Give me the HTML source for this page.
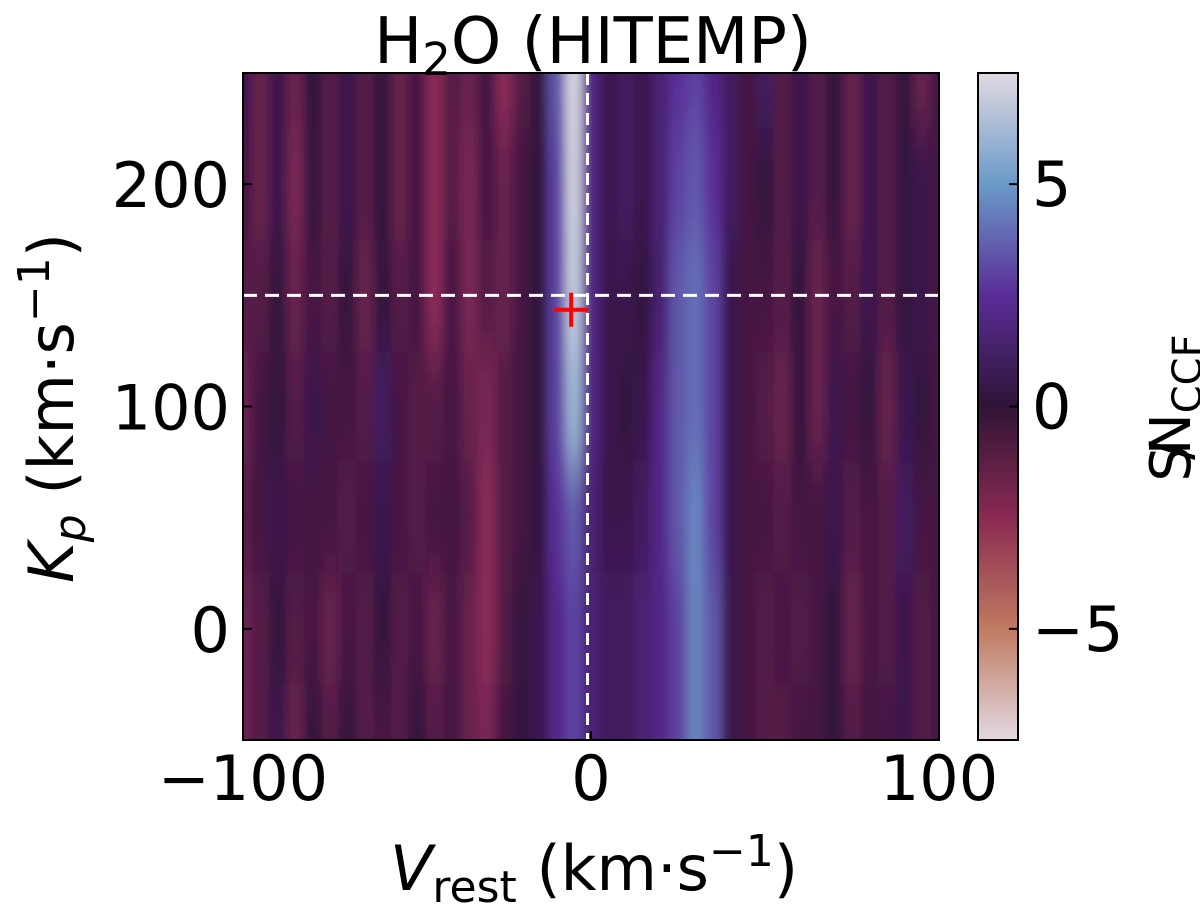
<!DOCTYPE html>
<html><head><meta charset="utf-8"><style>
html,body{margin:0;padding:0;background:#fff;}
svg text{font-family:"DejaVu Sans","Liberation Sans",sans-serif;fill:#000;}
</style></head><body>
<svg id="chart" width="1200" height="905" viewBox="0 0 1200 905">
<defs>
<clipPath id="plotclip"><rect x="243" y="73" width="696" height="667"/></clipPath>
<filter id="blur" x="-10%" y="-10%" width="120%" height="120%"><feGaussianBlur stdDeviation="5 30"/></filter>
<linearGradient id="cbgrad" x1="0" y1="1" x2="0" y2="0">
<stop offset="0" stop-color="#e2d9e2"/><stop offset="0.167" stop-color="#c07a60"/>
<stop offset="0.333" stop-color="#8a2a52"/><stop offset="0.5" stop-color="#2f1436"/>
<stop offset="0.667" stop-color="#5a2d98"/><stop offset="0.833" stop-color="#6a9ac8"/>
<stop offset="1" stop-color="#e2d9e2"/></linearGradient>
</defs>
<g clip-path="url(#plotclip)"><g id="cells" filter="url(#blur)"></g></g>
<g id="overlay"></g>
<rect x="243" y="73" width="696" height="667" fill="none" stroke="#000" stroke-width="2"/>
<text x="593" y="63" font-size="64" text-anchor="middle">H<tspan font-size="45" dy="12">2</tspan><tspan dy="-12">O (HITEMP)</tspan></text>
<text x="594" y="890" font-size="62" text-anchor="middle"><tspan font-style="italic">V</tspan><tspan font-size="44" dy="12">rest</tspan><tspan dy="-12"> (km·s</tspan><tspan font-size="44" dy="-24">−1</tspan><tspan dy="24">)</tspan></text>
<text transform="translate(73,408) rotate(-90)" font-size="62" text-anchor="middle"><tspan font-style="italic">K</tspan><tspan font-size="44" dy="12" font-style="italic">p</tspan><tspan dy="-12"> (km·s</tspan><tspan font-size="44" dy="-24">−1</tspan><tspan dy="24">)</tspan></text>
<rect x="978" y="73" width="40" height="667" fill="url(#cbgrad)" stroke="#000" stroke-width="2"/>
<text transform="translate(1190,408) rotate(-90)" font-size="56" text-anchor="middle">S<tspan dx="-14">/</tspan><tspan dx="-14">N</tspan><tspan font-size="40" dy="11">CCF</tspan></text>
</svg>
<script>
const vels=[-100,-95,-90,-85,-80,-75,-70,-65,-60,-55,-50,-45,-40,-35,-30,-25,-20,-15,-10,-5,0,5,10,15,20,25,30,35,40,45,50,55,60,65,70,75,80,85,90,95,100];
const kps=[250,200,150,100,50,0,-50];
const row250=[0.5,-1.5,0.5,-1.5,0,-1,0.5,-1,0,-1.5,-0.5,-2.5,-1,-1.5,-0.5,-2.5,-1,0,3.5,7.2,2,0.5,1,0.5,1.5,2.5,3,2,1,-0.5,1,-1,0.5,-1,0,-1.5,0.5,-1,0,-1.5,-0.5];
const row200=[-0.5,-1.5,0.5,-2,0,-1,0.5,-1,0,-1.5,-0.5,-2.5,-1,-2,-0.5,-1.5,-0.5,0,3,7,2,0.5,1,0.5,1.5,3,3.5,2.5,1,-0.5,0,-1,0.5,-1,0,-1.5,0.5,-1,0,0.5,-0.5];
const row150=[-1,-1,0,-1.5,-0.5,-1,0,-1.5,0,-1,-0.5,-2.5,-0.5,-2,-1,-1.5,-0.5,0,3,6.8,2,0.5,0.5,0,1.5,3.5,4,3,0.5,-0.5,-0.5,-1,0,-1.5,-0.5,-1,0.5,-1,0,0.5,-0.5];
const row100=[-1.5,-0.5,0,-1,0.5,-0.5,-0.5,-1,1,-0.5,-1,-1,-0.5,-1.5,-2,-1,-0.5,0,3,6,2,0.5,0,0.5,2,3.5,4,3,0.5,-0.5,-1,-1.5,0,-1.5,0.5,-0.5,0,-1.5,0.5,0,-0.5];
const row50=[-1,-0.5,0.5,-0.5,-0.5,-0.5,-1,-0.5,0.5,-0.5,-1,-0.5,-0.5,-1,-2.5,-1,-0.5,0,2.5,3.5,1.5,0.5,0.5,1,2,3.5,4.5,3,0.5,-0.5,-0.5,-1,-0.5,-0.5,0.5,-1,-0.5,-1,1,-0.5,-0.5];
const row0=[-1.5,-1,0,-1,-0.5,-1.5,-0.5,-1,0,-1,-0.5,-1.5,-0.5,-1.5,-2.5,-1,0,0.5,2,3,1.5,1,1,1.5,2,3,4.5,3.5,0.5,-0.5,-1,-0.5,-1,-0.5,0,-1.5,-0.5,-1,0.5,-1,-0.5];
const rowm50=[-1.5,-1,0.5,-1.5,0,-1,0,-1,-0.5,-1,0,-1,-0.5,-1.5,-2,-0.5,0,0.5,2,3,1.5,1,1,1.5,2,3,4.5,3.5,0.5,-0.5,-1,-1,-0.5,-0.5,0,-1,-0.5,-0.5,0.5,-1,-0.5];
const grid=[row250,row200,row150,row100,row50,row0,rowm50];
const xTicks=[-100,0,100], yTicks=[0,100,200], cbTicks=[-5,0,5];
const xTickLabels=["−100","0","100"], yTickLabels=["0","100","200"], cbTickLabels=["−5","0","5"];
const marker={v:-5.7,kp:143.5}, guide={v:-1,kp:150};

const X=v=>243+(v+100)*696/200;
const Y=k=>740-(k+50)*667/300;
const CB=s=>740-(s+7.5)*667/15;
const stops=[[-7.5,[226,217,226]],[-5,[192,122,96]],[-2.5,[138,42,88]],[0,[50,20,60]],[2.5,[90,45,152]],[5,[106,154,200]],[7.5,[226,217,226]]];
function col(s){s=Math.max(-7.5,Math.min(7.5,s));for(let i=0;i<stops.length-1;i++){const a=stops[i],b=stops[i+1];if(s<=b[0]){const t=(s-a[0])/(b[0]-a[0]);return 'rgb('+a[1].map((c,j)=>Math.round(c+(b[1][j]-c)*t)).join(',')+')';}}return 'rgb(226,217,226)';}
const NS='http://www.w3.org/2000/svg';
const cells=document.getElementById('cells');
for(let r=0;r<kps.length;r++){for(let c=0;c<vels.length;c++){
 const e=document.createElementNS(NS,'rect');
 const x0=X(vels[c]-2.5), y0=Y(kps[r]+25);
 e.setAttribute('x',x0-(c==0?40:0));e.setAttribute('y',y0-(r==0?60:0));
 e.setAttribute('width',X(vels[c]+2.5)-x0+0.6+(c==0||c==vels.length-1?40:0));
 e.setAttribute('height',Y(kps[r]-25)-y0+0.6+(r==0||r==kps.length-1?60:0));
 e.setAttribute('fill',col(grid[r][c]));
 
 
 cells.appendChild(e);}}
const svg=document.getElementById('chart'), ov=document.getElementById('overlay');
function mk(tag,attrs,name,parent){const e=document.createElementNS(NS,tag);for(const k in attrs)e.setAttribute(k,attrs[k]);
 
 
 (parent||svg).appendChild(e);return e;}
mk('line',{x1:X(guide.v),x2:X(guide.v),y1:73,y2:740,stroke:'#fff','stroke-width':3,'stroke-dasharray':'12 8'},'vertical-guide-line',ov);
mk('line',{x1:243,x2:939,y1:Y(guide.kp),y2:Y(guide.kp),stroke:'#fff','stroke-width':3,'stroke-dasharray':'14 8'},'horizontal-guide-line',ov);
mk('path',{d:`M${X(marker.v)-17},${Y(marker.kp)}h34M${X(marker.v)},${Y(marker.kp)-17}v34`,stroke:'#f00','stroke-width':4},'peak-marker',ov);
xTicks.forEach((t,i)=>{mk('line',{x1:X(t),x2:X(t),y1:740,y2:731,stroke:'#000','stroke-width':2},'x-tick');
 const tx=mk('text',{x:X(t),y:800,'font-size':62,'text-anchor':'middle'},'x-tick-label');tx.textContent=xTickLabels[i];});
yTicks.forEach((t,i)=>{mk('line',{x1:243,x2:252,y1:Y(t),y2:Y(t),stroke:'#000','stroke-width':2},'y-tick');
 const tx=mk('text',{x:230,y:Y(t)+23,'font-size':62,'text-anchor':'end'},'y-tick-label');tx.textContent=yTickLabels[i];});
cbTicks.forEach((t,i)=>{mk('line',{x1:1009,x2:1018,y1:CB(t),y2:CB(t),stroke:'#000','stroke-width':2},'colorbar-tick');
 const tx=mk('text',{x:1032,y:CB(t)+22,'font-size':62},'colorbar-tick-label');tx.textContent=cbTickLabels[i];});
</script>
</body></html>
